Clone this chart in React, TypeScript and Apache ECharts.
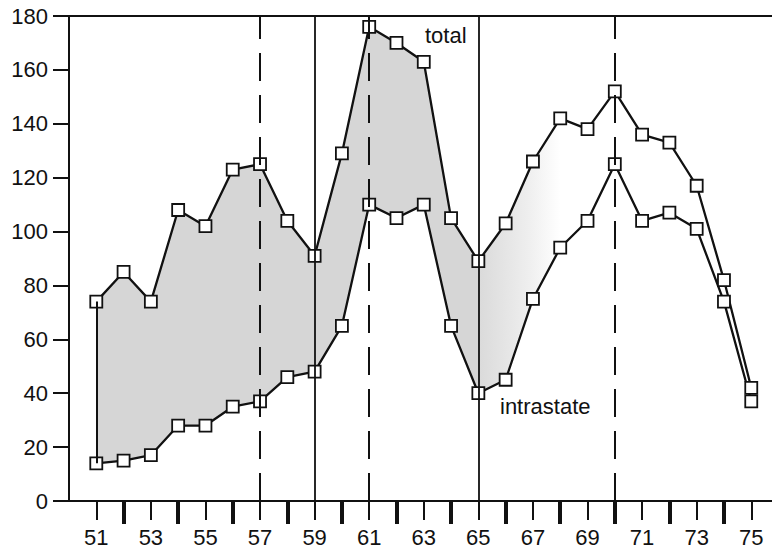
import React, { useEffect, useRef } from "react";
import * as echarts from "echarts";

const years = [51, 52, 53, 54, 55, 56, 57, 58, 59, 60, 61, 62, 63, 64, 65, 66, 67, 68, 69, 70, 71, 72, 73, 74, 75];
const total = [74, 85, 74, 108, 102, 123, 125, 104, 91, 129, 176, 170, 163, 105, 89, 103, 126, 142, 138, 152, 136, 133, 117, 82, 42];
const intrastate = [14, 15, 17, 28, 28, 35, 37, 46, 48, 65, 110, 105, 110, 65, 40, 45, 75, 94, 104, 125, 104, 107, 101, 74, 37];
const yTicks = [0, 20, 40, 60, 80, 100, 120, 140, 160, 180];
const oddYears = years.filter((y) => y % 2 === 1);
const evenYears = years.filter((y) => y % 2 === 0);
const dashedYears = [57, 61, 70];
const solidYears = [59, 65];
const darkShade = [51, 65];
const lightShade = [65, 68];

const FONT = "Liberation Sans";
const INK = "#111111";

function bandPoints(api: any, from: number, to: number) {
  const top: number[][] = [];
  const bottom: number[][] = [];
  years.forEach((y, i) => {
    if (y >= from && y <= to) {
      top.push(api.coord([y, total[i]]));
      bottom.unshift(api.coord([y, intrastate[i]]));
    }
  });
  return top.concat(bottom);
}

export default function App() {
  const ref = useRef<HTMLDivElement>(null);
  useEffect(() => {
    if (!ref.current) return;
    const chart = echarts.init(ref.current, null, { renderer: "svg" });
    const option: any = {
      animation: false,
      backgroundColor: "#ffffff",
      grid: { left: 69, top: 16, bottom: 50, right: 0, containLabel: false },
      xAxis: [
        {
          type: "value",
          position: "bottom",
          min: 50,
          max: 75.76,
          splitLine: { show: false },
          axisLine: { show: true, onZero: false, lineStyle: { color: INK, width: 2 } },
          axisTick: { show: true, inside: false, length: 19, customValues: oddYears, lineStyle: { color: INK, width: 2 } },
          axisLabel: {
            show: true,
            customValues: oddYears,
            margin: 25,
            fontFamily: FONT,
            fontSize: 22,
            color: INK,
            formatter: (v: number) => String(v),
          },
        },
        {
          type: "value",
          position: "bottom",
          min: 50,
          max: 75.76,
          splitLine: { show: false },
          axisLine: { show: false, onZero: false },
          axisTick: { show: true, inside: false, length: 23, customValues: evenYears, lineStyle: { color: INK, width: 4 } },
          axisLabel: { show: false },
        },
      ],
      yAxis: {
        type: "value",
        min: 0,
        max: 180,
        interval: 20,
        splitLine: { show: false },
        axisLine: { show: true, lineStyle: { color: INK, width: 2 } },
        axisTick: { show: true, length: 16, lineStyle: { color: INK, width: 2 } },
        axisLabel: {
          margin: 21,
          fontFamily: FONT,
          fontSize: 22,
          color: INK,
          customValues: yTicks,
        },
      },
      series: [
        {
          type: "custom",
          xAxisIndex: 0,
          z: 1,
          silent: true,
          data: [[years[0], 0]],
          renderItem: (params: any, api: any) => ({
            type: "group",
            children: [
              {
                type: "polygon",
                shape: { points: bandPoints(api, darkShade[0], darkShade[1]) },
                style: { fill: "#d6d6d6", stroke: null },
              },
              {
                type: "polygon",
                shape: { points: bandPoints(api, lightShade[0], lightShade[1]) },
                style: {
                  fill: new echarts.graphic.LinearGradient(0, 0, 1, 0, [
                    { offset: 0, color: "#dadada" },
                    { offset: 0.6, color: "#eeeeee" },
                    { offset: 1, color: "#ffffff" },
                  ]),
                  stroke: null,
                },
              },
            ],
          }),
          markLine: {
            silent: true,
            symbol: "none",
            label: { show: false },
            data: [
              ...dashedYears.map((y) => ({ xAxis: y, lineStyle: { color: INK, width: 2, type: [28, 14] } })),
              ...solidYears.map((y) => ({ xAxis: y, lineStyle: { color: INK, width: 1.8, type: "solid" } })),
              { yAxis: yTicks[yTicks.length - 1], lineStyle: { color: INK, width: 2, type: "solid" } },
              [
                { coord: [years[0], intrastate[0]], lineStyle: { color: INK, width: 2, type: "solid" } },
                { coord: [years[0], total[0]] },
              ],
            ],
          },
        },
        {
          name: "total",
          type: "line",
          xAxisIndex: 0,
          z: 3,
          data: years.map((y, i) => [y, total[i]]),
          symbol: "rect",
          symbolSize: 12,
          showAllSymbol: true,
          lineStyle: { color: INK, width: 2.3 },
          itemStyle: { color: "#ffffff", borderColor: INK, borderWidth: 1.8 },
        },
        {
          name: "intrastate",
          type: "line",
          xAxisIndex: 0,
          z: 3,
          data: years.map((y, i) => [y, intrastate[i]]),
          symbol: "rect",
          symbolSize: 12,
          showAllSymbol: true,
          lineStyle: { color: INK, width: 2.3 },
          itemStyle: { color: "#ffffff", borderColor: INK, borderWidth: 1.8 },
        },
      ],
      graphic: [
        {
          type: "text",
          left: 425,
          top: 24,
          z: 10,
          style: { text: "total", fontFamily: FONT, fontSize: 22, fill: INK },
        },
        {
          type: "text",
          left: 500,
          top: 395,
          z: 10,
          style: { text: "intrastate", fontFamily: FONT, fontSize: 22, fill: INK },
        },
      ],
    };
    chart.setOption(option);
    return () => chart.dispose();
  }, []);
  return (
    <div
      ref={ref}
      style={{ position: "absolute", left: 0, top: 0, width: 772, height: 551, background: "#fff" }}
    />
  );
}
